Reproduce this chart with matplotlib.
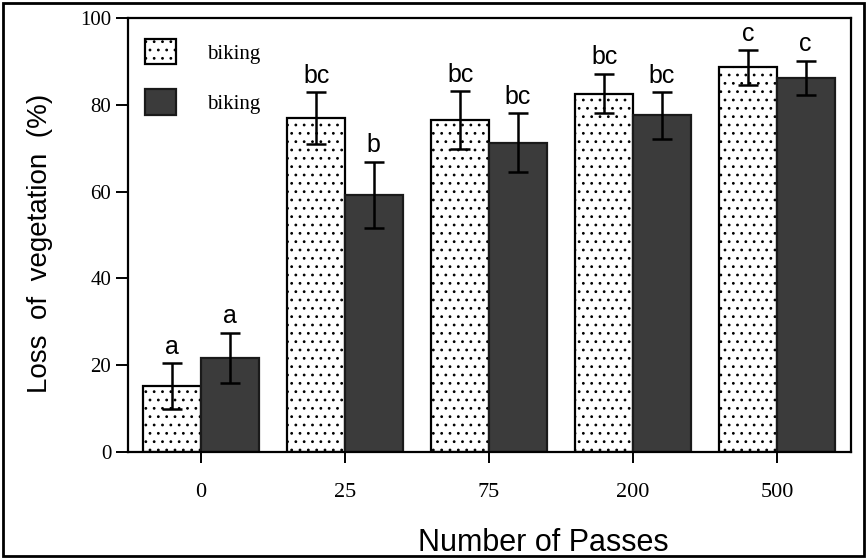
import numpy as np
import matplotlib
matplotlib.use("Agg")
import matplotlib.pyplot as plt
from matplotlib.patches import Rectangle

# --- Data ---
passes = ["0", "25", "75", "200", "500"]
light_mean = [15.2, 76.9, 76.5, 82.6, 88.6]
light_err = [5.3, 6.0, 6.6, 4.6, 4.0]
dark_mean = [21.7, 59.2, 71.3, 77.6, 86.2]
dark_err = [5.8, 7.7, 6.8, 5.4, 4.0]
light_letters = ["a", "bc", "bc", "bc", "c"]
dark_letters = ["a", "b", "bc", "bc", "c"]
legend_labels = ["biking", "biking"]

serif = "Liberation Serif"
sans = "Liberation Sans"

fig = plt.figure(figsize=(8.67, 5.59), dpi=100)
ax = fig.add_axes([0.1476, 0.1914, 0.8339, 0.7764])

x = np.arange(len(passes))
w = 0.40
plt.rcParams['hatch.linewidth'] = 0.8

b1 = ax.bar(x - w / 2, light_mean, w, color="white", edgecolor="black",
            linewidth=1.6, hatch="..", label=legend_labels[0], zorder=2)
b2 = ax.bar(x + w / 2, dark_mean, w, color="#3b3b3b", edgecolor="#1a1a1a",
            linewidth=1.6, label=legend_labels[1], zorder=2)

ax.errorbar(x - w / 2, light_mean, yerr=light_err, fmt="none", ecolor="black",
            elinewidth=1.8, capsize=7, capthick=1.8, zorder=3)
ax.errorbar(x + w / 2, dark_mean, yerr=dark_err, fmt="none", ecolor="black",
            elinewidth=1.8, capsize=7, capthick=1.8, zorder=3)

# significance letters
for xi, m, e, t in zip(x - w / 2, light_mean, light_err, light_letters):
    ax.annotate(t, (xi, m + e), xytext=(0, 3), textcoords="offset points",
                ha="center", va="bottom", fontsize=18, family=sans)
for xi, m, e, t in zip(x + w / 2, dark_mean, dark_err, dark_letters):
    ax.annotate(t, (xi, m + e), xytext=(0, 3), textcoords="offset points",
                ha="center", va="bottom", fontsize=18, family=sans)

ax.set_xlim(-0.507, 4.514)
ax.set_ylim(0, 100)
ax.set_xticks(x)
ax.set_xticklabels(passes)
ax.set_yticks([0, 20, 40, 60, 80, 100])
ax.tick_params(axis="both", direction="out", width=1.4)
ax.tick_params(axis="y", length=9, pad=3, labelsize=15)
ax.tick_params(axis="x", length=8, pad=14, labelsize=16)
for lab in ax.get_xticklabels() + ax.get_yticklabels():
    lab.set_family(serif)
for s in ax.spines.values():
    s.set_linewidth(1.6)

ax.set_xlabel("Number of Passes", fontsize=22, family=sans, va="center")
ax.xaxis.set_label_coords(0.574, -0.21)
ax.set_ylabel("Loss  of  vegetation  (%)", fontsize=20, family=sans, va="center")
ax.yaxis.set_label_coords(-0.122, 0.48)

leg = ax.legend(loc="upper left", frameon=False, prop={"family": serif, "size": 15},
                handlelength=1.5, handleheight=1.5, handletextpad=1.5,
                labelspacing=1.2, borderaxespad=0.4, bbox_to_anchor=(0.0, 0.99))

# outer border around the whole figure
fig.patches.append(Rectangle((0.004, 0.005), 0.992, 0.99, transform=fig.transFigure,
                             fill=False, edgecolor="black", linewidth=2))

plt.savefig("out.png", dpi=100)
